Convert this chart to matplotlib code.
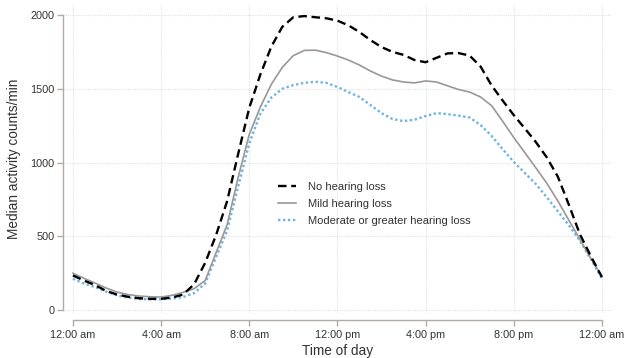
import numpy as np
import matplotlib
matplotlib.use("Agg")
import matplotlib.pyplot as plt

# hours since midnight, half-hour steps
hours = np.arange(0, 24.5, 0.5)

no_loss = [235, 200, 170, 130, 105, 90, 80, 76, 76, 85,
           105, 175, 320, 510, 740, 1060, 1370, 1595, 1785, 1920,
           1985, 1993, 1985, 1978, 1962, 1930, 1885, 1830, 1783, 1750,
           1730, 1695, 1680, 1710, 1740, 1742, 1725, 1650, 1522, 1420,
           1322, 1232, 1140, 1035, 905, 715, 515, 365, 224]

mild_loss = [250, 215, 183, 150, 122, 105, 95, 90, 88, 100,
             120, 145, 200, 390, 580, 900, 1190, 1375, 1530, 1645,
             1725, 1760, 1762, 1745, 1722, 1695, 1661, 1620, 1586, 1560,
             1546, 1540, 1553, 1546, 1520, 1495, 1478, 1444, 1385, 1280,
             1170, 1068, 965, 860, 740, 610, 480, 350, 230]

moderate_loss = [212, 180, 156, 125, 100, 85, 75, 72, 73, 78,
                 88, 115, 180, 360, 540, 840, 1130, 1330, 1440, 1500,
                 1525, 1540, 1548, 1540, 1512, 1478, 1444, 1390, 1335, 1295,
                 1281, 1290, 1315, 1335, 1328, 1318, 1305, 1254, 1180, 1090,
                 1005, 930, 855, 765, 670, 575, 470, 345, 215]

x_ticks = [0, 4, 8, 12, 16, 20, 24]
x_labels = ["12:00 am", "4:00 am", "8:00 am", "12:00 pm", "4:00 pm", "8:00 pm", "12:00 am"]
y_ticks = [0, 500, 1000, 1500, 2000]

plt.rcParams["font.family"] = ["Liberation Sans", "DejaVu Sans"]

fig = plt.figure(figsize=(6.25, 3.58), dpi=100)
ax = fig.add_axes([63 / 625, 1 - 313 / 358, 549 / 625, 308 / 358])

axis_grey = "#b3aca6"

ax.plot(hours, moderate_loss, color="#6cb4e4", lw=1.7, linestyle=(0, (1, 1.1)),
        label="Moderate or greater hearing loss", zorder=3)
ax.plot(hours, mild_loss, color="#9c9794", lw=1.2, label="Mild hearing loss", zorder=4)
ax.plot(hours, no_loss, color="black", lw=1.7, linestyle=(0, (3.6, 2)),
        label="No hearing loss", zorder=5)

ax.set_xlim(-0.45, 24.46)
ax.set_ylim(-20, 2068)
ax.set_xticks(x_ticks)
ax.set_xticklabels(x_labels)
ax.set_yticks(y_ticks)

ax.grid(True, color="#e2e2e2", lw=0.8, linestyle=(0, (1, 1)))
ax.set_axisbelow(True)

for side in ["top", "right"]:
    ax.spines[side].set_visible(False)
ax.spines["left"].set_color(axis_grey)
ax.spines["bottom"].set_color(axis_grey)
ax.spines["left"].set_linewidth(1.0)
ax.spines["bottom"].set_linewidth(1.0)
ax.spines["left"].set_bounds(0, 2000)
ax.spines["bottom"].set_bounds(0, 24)
ax.spines["bottom"].set_position(("outward", 5))

ax.tick_params(axis="both", colors=axis_grey, labelcolor="#333333",
               labelsize=7.8, length=4, width=1.0)
ax.tick_params(axis="y", pad=2)
ax.tick_params(axis="x", pad=3)

ax.set_xlabel("Time of day", fontsize=9.8, color="#333333", labelpad=3)
ax.set_ylabel("Median activity counts/min", fontsize=9.8, color="#333333", labelpad=7)

handles, labels = ax.get_legend_handles_labels()
order = [2, 1, 0]
ax.legend([handles[i] for i in order], [labels[i] for i in order],
          loc="upper left", bbox_to_anchor=(278 / 625, 1 - 182 / 358),
          bbox_transform=fig.transFigure, frameon=False, fontsize=8,
          handlelength=1.6, handletextpad=1.1, labelspacing=0.62,
          borderpad=0, borderaxespad=0, labelcolor="#333333")

fig.savefig("out.png", dpi=100)
